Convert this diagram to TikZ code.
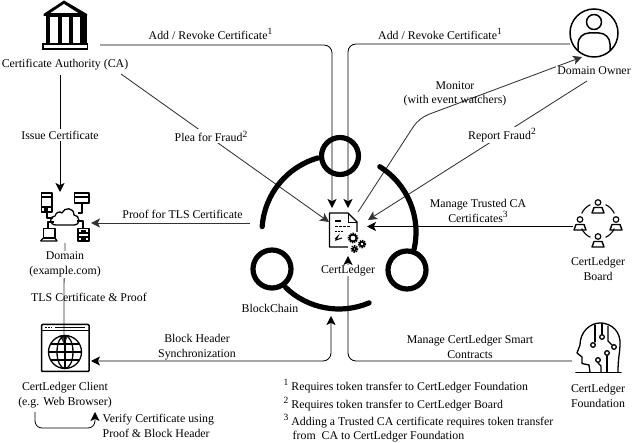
\documentclass[tikz,border=0pt]{standalone}
\usepackage{fontspec}
\setmainfont{Liberation Serif}
\usetikzlibrary{arrows.meta}
\newcommand{\sups}[1]{\raisebox{4.6pt}{\fontsize{9.5}{9.5}\selectfont #1}}
\tikzset{
  lbl/.style={font=\fontsize{11.85}{14.4}\selectfont,align=center,inner sep=0.5pt},
  mask/.style={lbl,fill=white,inner sep=1.5pt},
  conn/.style={line width=0.85pt,rounded corners=8pt},
  tip/.style={-{Stealth[length=9pt,width=9pt,inset=2.2pt]}},
  soft/.style={conn,draw=black!80},
  ico/.style={line width=1.5pt,line join=round},
  slot/.style={inner sep=0,outer sep=0,minimum width=#1},
  chain/.style={line width=5.2pt,line cap=round},
}
\newcommand{\member}[2]{%
  \draw[line width=1.2pt] (#1,#2-4.5) circle[radius=2.8];
  \draw[line width=1.4pt,line join=round] (#1-6,#2+6) -- (#1-4,#2+0.5) -- (#1+4,#2+0.5) -- (#1+6,#2+6) -- cycle;}
\newcommand{\gear}[3]{%
  \draw[line width=1.6pt] (#1,#2) circle[radius=#3];
  \draw[line width=1.6pt,dash pattern=on 1.3pt off 1pt] (#1,#2) circle[radius=#3+1.2];}
\begin{document}
\begin{tikzpicture}[x=1pt,y=-1pt]
\useasboundingbox (0,0) rectangle (632,443);
\fill[white] (0,0) rectangle (632,443);

% anchor nodes
\node[slot=38pt,minimum height=48pt] (ledger) at (348,232) {};
\node[slot=46pt,minimum height=50pt] (ca) at (65,25) {};
\node[slot=50pt,minimum height=50pt] (owner) at (594,33) {};
\node[slot=50pt,minimum height=50pt] (domain) at (65,217) {};
\node[slot=48pt,minimum height=48pt] (client) at (65,348) {};
\node[slot=50pt,minimum height=50pt] (board) at (598,221) {};
\node[slot=48pt,minimum height=52pt] (found) at (598,347) {};
\coordinate (caAdd) at (100,45);
\coordinate (caPlea) at (121,74);
\coordinate (caIssue) at (60,75);
\coordinate (leadPlea) at (329,222);
\coordinate (ownAdd) at (570,44);
\coordinate (ownMon) at (582,57);
\coordinate (ownRep) at (587,81);
\coordinate (ledMon) at (358,212);
\coordinate (ledRep) at (368,220);
\coordinate (ledBoard) at (367,226.5);
\coordinate (bdLine) at (573,226.5);
\coordinate (chainProof) at (250,223);
\coordinate (domProof) at (91,223);
\coordinate (domTop) at (60,192);
\coordinate (domOut) at (65,243);
\coordinate (cliIn) at (64,344);
\coordinate (cliSync) at (91,361);
\coordinate (chainSync) at (331,316);
\coordinate (fdLine) at (572,361);

% connectors
\draw[conn,tip] (caAdd) -- (332,45) -- ([xshift=-16pt]ledger.north);
\draw[conn,tip] (ownAdd) -- (348,44) -- (ledger.north);
\draw[soft,tip] (caPlea) -- (leadPlea);
\draw[conn,tip] (caIssue) -- (domTop);
\draw[soft,tip] (chainProof) -- (domProof);
\draw[soft,tip] (domOut) -- (65,262) -- (64,280) -- (cliIn);
\draw[conn,{Stealth[length=9pt,width=9pt,inset=2.2pt]}-{Stealth[length=9pt,width=9pt,inset=2.2pt]}] (cliSync) -- (331,361) -- (chainSync);
\draw[conn,tip] (fdLine) -- (348,361) -- (ledger.south);
\draw[soft,tip,rounded corners=10pt] (ledMon) -- (419,118) -- (ownMon);
\draw[soft,tip] (ownRep) -- (ledRep);
\draw[conn,tip] (bdLine) -- (ledBoard);
\coordinate (selfA) at (35,412);
\coordinate (selfB) at (95,412);
\draw[line width=0.8pt,rounded corners=7pt,tip] (selfA) -- (35,428) -- (95,428) -- (selfB);

% blockchain
\draw[line width=5.2pt] (340,156) circle[radius=18.5];
\draw[line width=5.2pt] (272,269) circle[radius=19];
\draw[line width=5.2pt] (407,270) circle[radius=19];
\begin{scope}[shift={(339,232)}]
\draw[chain] (-176:77) arc[start angle=-176,end angle=-106,radius=77];
\draw[chain] (-58:77) arc[start angle=-58,end angle=13,radius=77];
\draw[chain] (134:77) arc[start angle=134,end angle=67,radius=77];
\end{scope}

% bank icon
\fill (64,0.5) -- (43.5,14) -- (43.5,16) -- (87,16) -- (87,14) -- cycle;
\fill[white] (64,4) -- (50.5,13) -- (78,13) -- cycle;
\fill (46,15) rectangle (87,43);
\fill[white] (50,17) rectangle (58,43);
\fill[white] (62,17) rectangle (69,43);
\fill[white] (73,17) rectangle (80,43);
\draw[line width=1.8pt] (43,44) rectangle (87.5,49);

% person icon
\draw[ico] (594,33) circle[radius=24];
\draw[ico] (594,22) circle[radius=7.5];
\draw[ico] (578,50) -- (578,44) arc[start angle=180,end angle=270,radius=11] -- (599,33) arc[start angle=270,end angle=360,radius=11] -- (610,50);

% network icon
\begin{scope}[line width=1.3pt,line join=round]
\draw (41.5,193) rectangle (52,212);
\draw (41.5,197) -- (52,197);
\draw[line width=1.4pt] (41.5,207) -- (52,207);
\fill (44,208.5) rectangle (48,211);
\draw (74.5,193) rectangle (89,203);
\draw (74.5,197) -- (89,197);
\draw (82,203) -- (82,213) -- (78,213);
\draw (47,212) -- (47,218) -- (53,218);
\draw (48,229) -- (48,222) -- (54,222);
\draw (83,229) -- (83,221) -- (77,221);
\draw (56,225) .. controls (49,225) and (49,216) .. (55,216) .. controls (56,212) and (60,211) .. (62,213) .. controls (64,207) and (74,207) .. (74,215) .. controls (80,215) and (81,225) .. (74,225) -- cycle;
\draw (43.5,228.5) rectangle (55,238);
\draw (40.5,241) -- (57,241) -- (55,238);
\draw (43.5,238) -- (40.5,241);
\draw (78,228.5) rectangle (89,241);
\draw (78,233) -- (89,233);
\draw (81,231) -- (86,231);
\draw (78,237) -- (89,237);
\draw (81,239) -- (86,239);
\end{scope}

% client window icon
\draw[ico,rounded corners=1pt] (41.5,324.5) rectangle (89,371.5);
\draw[line width=1.5pt] (41.5,330.5) -- (89,330.5);
\draw[line width=1pt,dash pattern=on 1.5pt off 1.5pt] (45,327.5) -- (52,327.5);
\draw[line width=1pt] (55,327.5) -- (85,327.5);
\begin{scope}[line width=1.3pt]
\draw (65,352) circle[radius=16.5];
\draw (65,352) ellipse[x radius=8,y radius=16.5];
\draw (65,335.5) -- (65,368.5);
\draw (48.5,352) -- (81.5,352);
\draw (51,344) -- (79,344);
\draw (51,360) -- (79,360);
\end{scope}

% board icon
\member{598}{207}
\member{580}{224}
\member{616}{224}
\member{598}{241}
\begin{scope}[shift={(598,221)}]
\draw[line width=1.1pt] (-115:18) arc[start angle=-115,end angle=-155,radius=18];
\draw[line width=1.1pt] (-65:18) arc[start angle=-65,end angle=-25,radius=18];
\draw[line width=1.1pt] (115:18) arc[start angle=115,end angle=155,radius=18];
\draw[line width=1.1pt] (65:18) arc[start angle=65,end angle=25,radius=18];
\end{scope}

% head icon
\begin{scope}[line width=1.3pt,line join=round,line cap=round]
\draw[line width=1.6pt] (576,372.5) -- (621,372.5);
\draw (590,372) -- (589,365) -- (582,363.5) -- (582,357) -- (577,353) -- (580,345) .. controls (580,332) and (590,323) .. (600,323) .. controls (612,323) and (621,332) .. (620,345) .. controls (620,352) and (618,358) .. (618,372);
\draw (595,325) -- (595,342);
\draw (593,345) circle[radius=2.3];
\draw (602,323) -- (602,334);
\draw (602,337) circle[radius=2.3];
\draw (608,326) -- (608,341) -- (612,345);
\draw (614,347) circle[radius=2.3];
\draw (607,356) -- (607,372);
\draw (607,353) circle[radius=2.3];
\draw (598,360) circle[radius=2.3];
\draw (598,363) -- (601,366) -- (601,372);
\end{scope}

% document icon
\draw[line width=1.2pt,line join=round,fill=white] (329.5,213) -- (348,213) -- (357,222) -- (357,247) -- (329.5,247) -- cycle;
\draw[line width=0.9pt] (348,213) -- (348,222) -- (357,222);
\draw[line width=1.3pt] (335,221) -- (341,221);
\draw[line width=0.9pt,dash pattern=on 3pt off 1pt] (335,226) -- (351,226);
\draw[line width=0.9pt,dash pattern=on 2pt off 1pt] (335,231) -- (344,231);
\draw[line width=1pt] (335,239) -- (338,236) -- (336,240) -- (342,238);
\fill[white] (348,232) rectangle (366,254);
\gear{353}{238}{3.4}
\gear{362}{244}{2.3}
\gear{354.5}{249}{1.9}

% labels
\node[lbl] (lCA) at (65,65) {Certificate Authority (CA)};
\node[mask,fill=white] (lIssue) at (60,135) {Issue Certificate};
\node[mask] (lAdd1) at (210.5,34) {Add / Revoke Certificate\sups{1}};
\node[mask] (lAdd2) at (440,34) {Add / Revoke Certificate\sups{1}};
\node[mask] (lPlea) at (211,136.5) {Plea for Fraud\sups{2}};
\node[lbl] (lProof) at (182.5,214) {Proof for TLS Certificate};
\node[mask] (lDomain) at (65,264.5) {Domain\\(example.com)};
\node[lbl] (lTLS) at (89,297) {TLS Certificate \& Proof};
\node[lbl] (lClient) at (65,395) {CertLedger Client\\(e.g. Web Browser)};
\node[lbl,align=left,anchor=west] (lVerify) at (102,426) {Verify Certificate using\\Proof \& Block Header};
\node[lbl] (lSync) at (197,347) {Block Header\\Synchronization};
\node[lbl] (lChain) at (270,308) {BlockChain};
\node[mask,fill=white,inner sep=0.5pt] (lLedger) at (348,270.5) {CertLedger};
\node[lbl] (lMon) at (455,94) {Monitor\\(with event watchers)};
\node[mask] (lRep) at (502,135) {Report Fraud\sups{2}};
\node[lbl] (lTrust) at (478,211) {Manage Trusted CA\\Certificates\sups{3}};
\node[lbl] (lManage) at (470,347) {Manage CertLedger Smart\\Contracts};
\node[mask] (lOwner) at (594,71) {Domain Owner};
\node[lbl] (lBoard) at (598,269) {CertLedger\\Board};
\node[lbl] (lFound) at (598,396) {CertLedger\\Foundation};
\node[lbl,anchor=west] (n1) at (283,386) {\sups{1} Requires token transfer to CertLedger Foundation};
\node[lbl,anchor=west] (n2) at (283,404) {\sups{2} Requires token transfer to CertLedger Board};
\node[lbl,anchor=west,align=left] (n3) at (283,428.5) {\sups{3} Adding a Trusted CA certificate requires token transfer\\\hspace*{9pt}from\ \ CA to CertLedger Foundation};
\end{tikzpicture}
\end{document}
